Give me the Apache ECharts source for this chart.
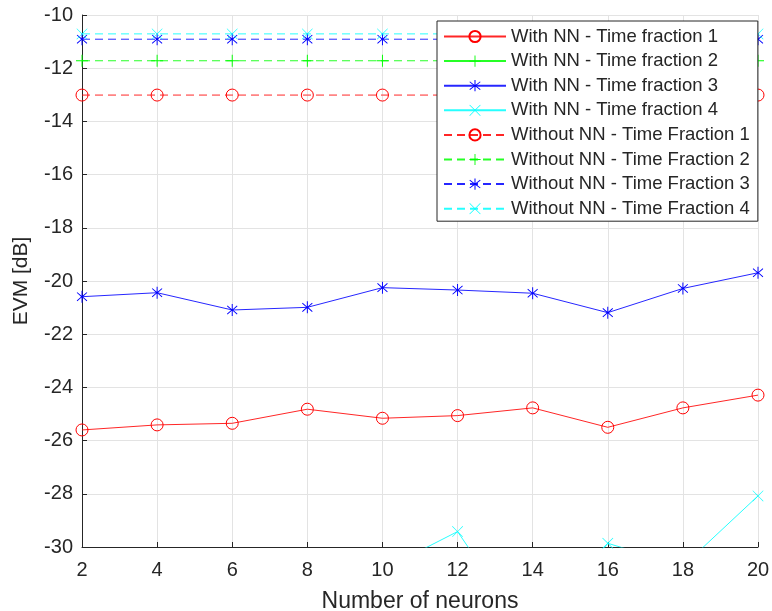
<!DOCTYPE html>
<html>
<head>
<meta charset="utf-8">
<script src="https://cdn.jsdelivr.net/npm/echarts@6/dist/echarts.min.js"></script>
<style>html,body{margin:0;padding:0;background:#fff;}#c{width:772px;height:611px;}</style>
</head>
<body>
<div id="c"></div>
<script>
const neurons = [2, 4, 6, 8, 10, 12, 14, 16, 18, 20];
const withNN_TF1 = [-25.6, -25.41, -25.35, -24.82, -25.16, -25.06, -24.77, -25.5, -24.77, -24.29];
const withNN_TF2 = [-33.5, -33.2, -33.8, -33.0, -33.4, -32.9, -33.6, -33.1, -33.3, -32.8];
const withNN_TF3 = [-20.59, -20.44, -21.09, -20.99, -20.25, -20.34, -20.46, -21.19, -20.28, -19.69];
const withNN_TF4 = [-32.0, -32.5, -31.5, -33.0, -30.86, -29.42, -33.56, -29.86, -30.72, -28.08];
const withoutNN_TF1 = [-13.01, -13.01, -13.01, -13.01, -13.01, -13.01, -13.01, -13.01, -13.01, -13.01];
const withoutNN_TF2 = [-11.72, -11.72, -11.72, -11.72, -11.72, -11.72, -11.72, -11.72, -11.72, -11.72];
const withoutNN_TF3 = [-10.91, -10.91, -10.91, -10.91, -10.91, -10.91, -10.91, -10.91, -10.91, -10.91];
const withoutNN_TF4 = [-10.71, -10.71, -10.71, -10.71, -10.71, -10.71, -10.71, -10.71, -10.71, -10.71];
const yTicks = [-30, -28, -26, -24, -22, -20, -18, -16, -14, -12, -10];

const names = [
  'With NN - Time fraction 1', 'With NN - Time fraction 2', 'With NN - Time fraction 3', 'With NN - Time fraction 4',
  'Without NN - Time Fraction 1', 'Without NN - Time Fraction 2', 'Without NN - Time Fraction 3', 'Without NN - Time Fraction 4'
];
const values = [withNN_TF1, withNN_TF2, withNN_TF3, withNN_TF4, withoutNN_TF1, withoutNN_TF2, withoutNN_TF3, withoutNN_TF4];

const RED = '#ff0000', GREEN = '#00ff00', BLUE = '#0000ff', CYAN = '#00ffff';
const PLUS = 'path://M4.6,0H5.4V4.6H10V5.4H5.4V10H4.6V5.4H0V4.6H4.6Z';
const XMARK = 'path://M0.4,0L5,4.6L9.6,0L10,0.4L5.4,5L10,9.6L9.6,10L5,5.4L0.4,10L0,9.6L4.6,5L0,0.4Z';
const STAR = 'path://M4.6,0H5.4V4.3L8.9,1.2L9.4,1.8L5.8,5L9.4,8.2L8.9,8.8L5.4,5.7V10H4.6V5.7L1.1,8.8L0.6,8.2L4.2,5L0.6,1.8L1.1,1.2L4.6,4.3Z';

const styles = [
  {c: RED, s: 'circle', hollow: true, size: 12},
  {c: GREEN, s: PLUS, size: 12},
  {c: BLUE, s: STAR, size: 12},
  {c: CYAN, s: XMARK, size: 11},
];

const series = names.map((n, i) => {
  const st = styles[i % 4];
  const dashed = i >= 4;
  return {
    name: n,
    type: 'line',
    data: neurons.map((x, k) => [x, values[i][k]]),
    symbol: st.s,
    symbolSize: st.size,
    symbolKeepAspect: true,
    showAllSymbol: true,
    clip: true,
    animation: false,
    lineStyle: {color: st.c, width: 1, type: dashed ? [8, 5] : 'solid', opacity: 0.85},
    itemStyle: st.hollow
      ? {color: 'rgba(255,255,255,0)', borderColor: st.c, borderWidth: 1}
      : {color: st.c, borderWidth: 0},
    emphasis: {disabled: true},
    z: 3
  };
});

const chart = echarts.init(document.getElementById('c'), null, {renderer: 'canvas'});
const FONT = 'Liberation Sans, Arial, sans-serif';
chart.setOption({
  animation: false,
  backgroundColor: '#ffffff',
  grid: {left: 82, right: 14, top: 15, bottom: 64, containLabel: false, outerBoundsMode: 'none'},
  xAxis: {
    type: 'value', min: 2, max: 20, interval: 2,
    name: 'Number of neurons', nameLocation: 'middle', nameGap: 43,
    nameTextStyle: {fontSize: 23, color: '#262626', fontFamily: FONT},
    axisLine: {show: true, lineStyle: {color: '#262626', width: 1}},
    axisTick: {show: true, inside: true, length: 5, lineStyle: {color: '#262626'}},
    axisLabel: {fontSize: 20, color: '#262626', fontFamily: FONT, margin: 13},
    splitLine: {show: true, lineStyle: {color: '#e3e3e3', width: 1}}
  },
  yAxis: {
    type: 'value', min: -30, max: -10, interval: 2,
    name: 'EVM [dB]', nameLocation: 'middle', nameGap: 50, nameRotate: 90,
    nameTextStyle: {fontSize: 21, color: '#262626', fontFamily: FONT},
    axisLine: {show: true, lineStyle: {color: '#262626', width: 1}},
    axisTick: {show: true, inside: true, length: 5, lineStyle: {color: '#262626'}},
    axisLabel: {fontSize: 20, color: '#262626', fontFamily: FONT, margin: 9,
      formatter: v => yTicks.includes(v) ? String(v) : ''},
    splitLine: {show: true, lineStyle: {color: '#e3e3e3', width: 1}}
  },
  legend: {
    show: true,
    orient: 'vertical',
    left: 437, top: 21,
    data: names,
    itemWidth: 62, itemHeight: 14, itemGap: 5.6,
    padding: [6, 8, 3, 6],
    backgroundColor: '#ffffff',
    borderColor: '#262626', borderWidth: 1,
    textStyle: {fontSize: 18.5, color: '#262626', fontFamily: FONT},
    selectedMode: false
  },
  series: series
});
</script>
</body>
</html>
